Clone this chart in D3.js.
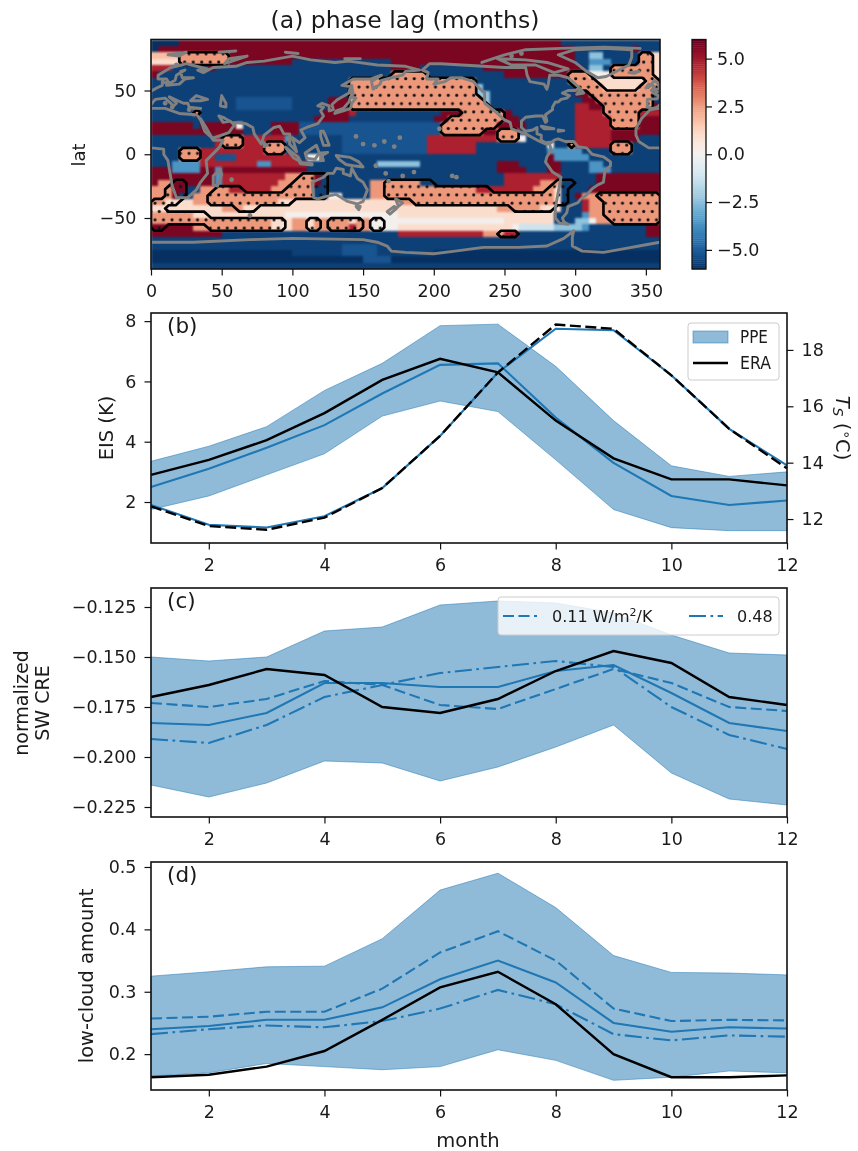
<!DOCTYPE html>
<html>
<head>
<meta charset="utf-8">
<script src="https://cdn.jsdelivr.net/npm/d3@7"></script>
<style>
  html, body { margin: 0; padding: 0; background: #fff; }
  svg { display: block; filter: blur(0.4px); }
  text { font-family: "DejaVu Sans", sans-serif; fill: #1a1a1a; }
  .axis text { font-size: 17.5px; }
  .axis path, .axis line { stroke: #111; stroke-width: 1.2; }
</style>
</head>
<body>
<div id="display"></div>
<script>
// letter -> phase lag in months, rows run north to south, 5 degree cells
var levels = {a: -6, b: -5.65, c: -5.2, d: -3.6, e: -2.4, f: -1.2, g: 0.1, h: 1, i: 1.8, j: 2.6, k: 3.6, l: 4.8, m: 5.7};
var phaseRows = [
  "a4 m54 b14",
  "a1 m59 b8 m1 b3",
  "i4 j7 m49 b2 e2 b5 j2 h1",
  "h4 j7 m9 b14 m26 b2 d3 b4 j2 h1",
  "l3 b5 m1 b25 m4 b9 m14 b1 e2 b1 j6 h1",
  "m1 b33 j5 b11 m9 j3 g3 j6 h1",
  "b28 j18 b13 j4 h7 j2",
  "b28 j18 e1 b13 j4 h5 j3",
  "b28 j18 e2 b12 m2 j9 b1",
  "b12 c8 b5 m3 j19 e1 b13 m2 j8 b1",
  "b12 c8 b5 m3 j20 b12 l2 m2 j7 m1",
  "b6 j1 b17 m4 l1 b12 m3 j6 m1 b9 l4 j5 l3",
  "b23 m5 b12 m2 j8 m2 b8 l5 j4 m3",
  "m6 b1 m5 g1 b4 m4 c20 j8 m4 b7 l5 j4 m3",
  "m13 b4 m4 c20 j6 m2 j3 b8 l5 m7",
  "b9 l1 j3 l6 d1 b7 c12 l10 j3 g1 b7 l5 m4 b3",
  "b9 l1 j3 l3 j3 b8 c12 l7 b10 g1 b2 j1 l5 j3 b4",
  "b4 j3 l9 j3 b8 c12 l7 b10 d5 b4 j3 b4",
  "b4 j3 l2 c3 l9 b1 g2 b32 m1 d5 b12",
  "b3 d4 l8 d2 l5 b10 e6 b11 m3 b4 m2 b4 d2 b8",
  "m3 d4 m2 d1 m12 b27 m4 b3 m2 b4 d3 b7",
  "m9 d1 l9 j4 m1 b26 l8 b5 m9",
  "m1 j2 m6 d1 l8 j5 m1 b7 j7 b12 l5 j3 b5 m9",
  "j3 m2 b2 j4 l6 j6 b8 j15 l8 j3 h1 b4 m10",
  "j3 m1 b2 j17 b2 g2 b4 j26 h1 b2 m1 j11",
  "j2 h4 j12 h17 j22 h1 b3 l1 j10",
  "h10 j3 h36 j6 h3 b3 l1 j10",
  "j6 h13 g16 h22 b4 d1 j10",
  "j17 h3 j2 h1 j5 h1 j2 g19 h7 b3 e2 g1 j9",
  "m6 j11 h3 j2 h1 j5 l1 j2 g4 h16 g1 f5 e4 d1 b8 m2",
  "m10 b25 l12 j3 l2 b18 m2",
  "b72",
  "b27 c5 b40",
  "a20 b7 c5 b8 a32",
  "a30 c4 a38",
  "b72"
];
var stippleLevel = "j";

// coastlines as lon, lat
var coastlines = [
  [[0,5],[9,4],[9,0],[12,-5],[13,-12],[15,-25],[18,-34],[26,-34],[32,-28],[35,-22],[40,-15],[39,-5],[48,5],[51,11],[44,11],[43,13],[38,18],[35,27],[33,30],[32,31],[20,32],[10,36],[0,36]],
  [[360,5],[352,5],[345,10],[343,15],[343,20],[347,28],[353,35],[360,36]],
  [[351,37],[351,43],[358,43.5],[359,46],[355,48],[358,49]],
  [[0,49.5],[4,52],[8,54],[8,57],[11,56],[11,54],[20,55],[24,59],[30,60],[22,60],[21,65],[24,66],[18,62],[17,58],[13,55.5],[11,59],[5,59],[5,62],[14,68],[25,71],[40,67],[33,66],[37,64],[44,68],[60,69],[68,72],[80,73],[100,77],[113,74],[130,72],[140,73],[160,70],[180,69],[190,66],[180,65],[178,62],[170,60],[163,58],[162,55],[157,51],[156,57],[163,62],[155,59],[143,59],[135,54],[141,53],[140,48],[132,43],[128,39],[129,35],[126,34],[126,38],[121,40],[118,38],[122,37],[120,34],[122,30],[118,24],[110,21],[106,19],[109,13],[105,9],[100,13],[103,2],[98,8],[98,16],[94,16],[91,22],[87,21],[80,15],[78,8],[73,16],[72,21],[67,24],[57,25],[51,29],[48,30],[51,25],[56,26],[59,23],[55,17],[45,13],[43,13],[39,21],[35,28]],
  [[35,36],[27,37],[26,40],[23,40],[19,42],[13,45],[18,40],[16,38],[10,44],[3,43],[0,39]],
  [[360,39],[358,37],[355,36],[351,37]],
  [[35,36],[30,36],[27,37]],
  [[28,42],[32,46],[40,43],[35,42],[28,42]],
  [[50,46],[53,40],[53,37],[49,38],[50,46]],
  [[114,-22],[115,-34],[118,-35],[124,-33],[131,-31.5],[136,-35],[139,-37],[146,-39],[150,-37],[153,-28],[150,-22],[146,-19],[142,-11],[141,-17],[136,-15],[136,-12],[131,-11],[129,-15],[125,-15],[122,-18],[114,-22]],
  [[131,-1],[141,-2.5],[147,-6],[150,-10],[143,-9],[138,-8],[133,-4],[131,-1]],
  [[109,1],[117,7],[119,1],[116,-4],[110,-3],[109,1]],
  [[95,5.5],[104,-2],[106,-6],[101,-3],[95,5.5]],
  [[105,-6.5],[114,-7.5],[114,-8.5],[106,-7.5],[105,-6.5]],
  [[120,1],[125,1.5],[121,-1],[122,-5],[120,-5],[120,1]],
  [[120,18],[122,18],[124,13],[126,7],[122,7],[120,14],[120,18]],
  [[130,32],[136,34],[141,36],[142,40],[145,44],[141,45],[140,41],[136,36],[131,34],[130,32]],
  [[142,54],[143,47],[142,47],[142,54]],
  [[80,9],[82,7],[80,6],[80,9]],
  [[49,-12],[50,-16],[47,-25],[44,-24],[44,-17],[49,-12]],
  [[173,-35],[178,-38],[175,-41],[174,-38],[173,-35]],
  [[172,-41],[174,-42],[169,-47],[167,-45],[172,-41]],
  [[145,-41],[148,-41],[147,-43.5],[145,-41]],
  [[12,78],[25,80],[20,77],[12,78]],
  [[52,71],[68,77],[55,75],[52,71]],
  [[48,80],[60,81]],
  [[95,80],[104,79]],
  [[137,75],[148,75]],
  [[338,64],[345,65],[342,63.5],[338,64]],
  [[354,50],[358,51],[360,52]],
  [[360,52],[359,55],[356,58],[354,55],[356,53],[354,50]],
  [[350,52],[354,54],[352,55],[350,52]],
  [[316,60],[322,61],[338,70],[340,76],[340,82],[320,83],[300,82],[288,78],[300,72],[308,65],[316,60]],
  [[192,66],[197,71],[205,71],[220,70],[235,69],[250,68],[265,68],[266,62],[268,57],[278,55],[280,51],[281,55],[282,62],[288,62],[295,60],[303,52],[300,50],[295,50],[291,48],[296,46],[294,44],[290,43],[288,41],[286,41],[284,37],[284,35],[279,31],[280,26],[279,25],[277,30],[272,30],[265,29],[262,26],[262,21],[265,18],[270,19],[273,21],[273,16],[276,15],[276,11],[279,9],[283,9],[285,11],[288,12],[293,10],[299,10],[302,6],[308,5],[312,0],[320,-2],[325,-6],[325,-9],[321,-13],[320,-22],[316,-24],[312,-27],[308,-32],[304,-35],[302,-38],[295,-41],[294,-46],[291,-50],[292,-53],[295,-55],[289,-54],[286,-50],[286,-42],[288,-30],[290,-18],[284,-14],[279,-6],[280,-2],[283,3],[282,8],[279,8],[275,10],[270,13],[265,16],[255,20],[254,25],[250,27],[245,32],[243,34],[236,40],[236,48],[232,52],[228,57],[220,60],[212,60],[208,57],[200,55],[203,59],[195,59],[196,64],[192,66]],
  [[245,75],[265,74],[280,72],[295,67],[285,64],[272,70],[255,70],[245,75]],
  [[234,72],[250,78],[265,82],[290,83],[320,84],[346,83]],
  [[301,47],[306,48],[304,51],[301,47]],
  [[276,22],[285,20],[278,20],[276,22]],
  [[288,19],[292,18.5],[288,18],[288,19]],
  [[0,-69],[30,-69],[70,-67],[100,-66],[150,-67],[160,-69],[167,-72],[170,-76],[180,-77],[200,-78],[215,-76],[235,-73],[260,-73],[280,-72],[292,-66],[299,-60],[298,-65],[298,-72],[305,-76],[320,-77],[335,-74],[350,-71],[360,-69]]
];

// small islands, drawn as blobs
var islands = [[57,-20],[70,-48],[204,20],[178,-17],[186,-14],[213,-17],[216,-18],[150,8],[158,7],[165,10],[172,6],[176,13],[145,14],[166,-15],[168,-21],[159,-9],[255,77],[262,79],[18,70],[27,35],[10,40],[15,37]];

var lonTicks = d3.range(0, 351, 50);
var latTicks = [-50, 0, 50];
var barTicks = [-5, -2.5, 0, 2.5, 5];
var months = d3.range(1, 13);
var monthTicks = [2, 4, 6, 8, 10, 12];

// panel b
var eisUpper = [3.35, 3.85, 4.5, 5.7, 6.6, 7.85, 7.9, 6.5, 4.7, 3.2, 2.85, 3.0];
var eisLower = [1.75, 2.2, 2.9, 3.6, 4.85, 5.35, 5.0, 3.4, 1.75, 1.15, 1.05, 1.05];
var eisMean = [2.5, 3.1, 3.8, 4.55, 5.6, 6.55, 6.6, 4.8, 3.3, 2.2, 1.9, 2.05];
var eisEra = [2.9, 3.4, 4.05, 4.95, 6.05, 6.75, 6.3, 4.7, 3.45, 2.75, 2.75, 2.55];
var tsPpe = [12.5, 11.8, 11.7, 12.1, 13.1, 14.95, 17.2, 18.75, 18.7, 17.1, 15.2, 13.9];
var tsEra = [12.45, 11.75, 11.62, 12.05, 13.1, 14.95, 17.2, 18.9, 18.75, 17.1, 15.2, 13.8];

// panel c
var creUpper = [-0.150, -0.152, -0.150, -0.137, -0.135, -0.124, -0.122, -0.123, -0.128, -0.139, -0.148, -0.149];
var creLower = [-0.214, -0.220, -0.213, -0.202, -0.203, -0.212, -0.205, -0.195, -0.184, -0.208, -0.221, -0.224];
var creMean = [-0.183, -0.184, -0.178, -0.163, -0.163, -0.165, -0.165, -0.157, -0.154, -0.168, -0.183, -0.187];
var creLow = [-0.173, -0.175, -0.171, -0.162, -0.164, -0.174, -0.176, -0.166, -0.156, -0.163, -0.175, -0.177];
var creHigh = [-0.191, -0.193, -0.184, -0.170, -0.164, -0.158, -0.155, -0.152, -0.155, -0.175, -0.189, -0.196];
var creEra = [-0.170, -0.164, -0.156, -0.159, -0.175, -0.178, -0.171, -0.157, -0.147, -0.153, -0.170, -0.174];

// panel d
var lcaUpper = [0.325, 0.332, 0.340, 0.341, 0.385, 0.463, 0.490, 0.435, 0.358, 0.331, 0.330, 0.327];
var lcaLower = [0.165, 0.170, 0.185, 0.180, 0.175, 0.180, 0.207, 0.190, 0.158, 0.163, 0.173, 0.170];
var lcaMean = [0.240, 0.245, 0.255, 0.255, 0.275, 0.320, 0.350, 0.315, 0.250, 0.236, 0.243, 0.241];
var lcaLow = [0.257, 0.260, 0.268, 0.268, 0.305, 0.363, 0.397, 0.350, 0.273, 0.253, 0.255, 0.254];
var lcaHigh = [0.232, 0.240, 0.246, 0.243, 0.253, 0.273, 0.303, 0.280, 0.232, 0.222, 0.230, 0.228];
var lcaEra = [0.163, 0.167, 0.180, 0.205, 0.255, 0.307, 0.332, 0.280, 0.200, 0.163, 0.163, 0.166];

var blue = "#1f77b4";
var dashed = "11,4.5";
var dashDot = "17,4.5,2.7,4.5";
var labelSize = 19.5;

var svg = d3.select("#display").append("svg")
    .attr("width", 858)
    .attr("height", 1151);

// map panel
var x = d3.scaleLinear().domain([0, 360]).range([151, 660]);
var y = d3.scaleLinear().domain([-90, 90]).range([269, 39.5]);
var colour = d3.scaleSequential(function(t) { return d3.interpolateRdBu(1 - t); }).domain([-6, 6]);

function expandRow(row) {
  var out = [];
  row.split(" ").forEach(function(run) {
    d3.range(+run.slice(1)).forEach(function() { out.push(run[0]); });
  });
  return out;
}

var grid = phaseRows.map(expandRow);
var cells = [];
grid.forEach(function(row, r) {
  row.forEach(function(key, c) {
    cells.push({lon: c * 5, lat: 90 - r * 5, key: key});
  });
});

svg.append("clipPath").attr("id", "map-clip")
  .append("rect")
    .attr("x", x(0)).attr("y", y(90))
    .attr("width", x(360) - x(0)).attr("height", y(-90) - y(90));

var map = svg.append("g").attr("clip-path", "url(#map-clip)");

map.append("g")
    .style("filter", "blur(0.9px)")
    .attr("shape-rendering", "crispEdges")
  .selectAll("rect")
    .data(cells)
    .enter().append("rect")
      .attr("x", function(d) { return x(d.lon); })
      .attr("y", function(d) { return y(d.lat); })
      .attr("width", x(5) - x(0) + 0.6)
      .attr("height", y(85) - y(90) + 0.6)
      .attr("fill", function(d) { return colour(levels[d.key]); });

// significance outline comes from the same grid
var mask = [];
grid.forEach(function(row) {
  row.forEach(function(key) { mask.push(key == stippleLevel ? 1 : 0); });
});
var contours = d3.contours().size([72, 36]).thresholds([0.5])(mask);
var gridPath = d3.geoPath(d3.geoTransform({
  point: function(px, py) { this.stream.point(x(px * 5), y(90 - py * 5)); }
}));

var hatch = svg.append("defs").append("pattern")
    .attr("id", "dots")
    .attr("patternUnits", "userSpaceOnUse")
    .attr("width", 8.5)
    .attr("height", 16.6);
hatch.append("circle").attr("cx", 2).attr("cy", 4).attr("r", 1.6).attr("fill", "#111");
hatch.append("circle").attr("cx", 6.25).attr("cy", 12.3).attr("r", 1.6).attr("fill", "#111");

map.selectAll(".hatch")
    .data(contours)
    .enter().append("path")
      .attr("class", "hatch")
      .attr("d", gridPath)
      .attr("fill", "url(#dots)");

map.selectAll(".outline")
    .data(contours)
    .enter().append("path")
      .attr("class", "outline")
      .attr("d", gridPath)
      .attr("fill", "none")
      .attr("stroke", "#000")
      .attr("stroke-width", 2.7)
      .attr("stroke-linejoin", "round");

var coastLine = d3.line()
    .x(function(d) { return x(d[0]); })
    .y(function(d) { return y(d[1]); });

map.selectAll(".coast")
    .data(coastlines)
    .enter().append("path")
      .attr("class", "coast")
      .attr("d", coastLine)
      .attr("fill", "none")
      .attr("stroke", "#808080")
      .attr("stroke-width", 2.9)
      .attr("stroke-linejoin", "round")
      .attr("stroke-linecap", "round");

map.selectAll(".island")
    .data(islands)
    .enter().append("circle")
      .attr("class", "island")
      .attr("cx", function(d) { return x(d[0]); })
      .attr("cy", function(d) { return y(d[1]); })
      .attr("r", 2.4)
      .attr("fill", "#808080");

svg.append("rect")
    .attr("x", x(0)).attr("y", y(90))
    .attr("width", x(360) - x(0)).attr("height", y(-90) - y(90))
    .attr("fill", "none").attr("stroke", "#111").attr("stroke-width", 1.6);

svg.append("g")
    .attr("class", "axis")
    .attr("transform", "translate(0,269)")
    .call(d3.axisBottom(x).tickValues(lonTicks).tickSize(6.5).tickPadding(9))
    .select(".domain").remove();

svg.append("g")
    .attr("class", "axis")
    .attr("transform", "translate(151,0)")
    .call(d3.axisLeft(y).tickValues(latTicks).tickSize(6.5).tickPadding(8))
    .select(".domain").remove();

svg.append("text")
    .attr("x", 405).attr("y", 28)
    .attr("text-anchor", "middle")
    .attr("font-size", 23.5)
    .text("(a) phase lag (months)");

svg.append("text")
    .attr("transform", "translate(85,155) rotate(-90)")
    .attr("text-anchor", "middle")
    .attr("font-size", 18)
    .text("lat");

// colour bar
var barY = d3.scaleLinear().domain([-6, 6]).range([269, 39.5]);
svg.append("g").selectAll("rect")
    .data(d3.range(-6, 6, 0.1))
    .enter().append("rect")
      .attr("x", 692)
      .attr("y", function(d) { return barY(d + 0.1); })
      .attr("width", 14)
      .attr("height", barY(0) - barY(0.1) + 0.4)
      .attr("fill", function(d) { return colour(d + 0.05); });

svg.append("rect")
    .attr("x", 692).attr("y", barY(6))
    .attr("width", 14).attr("height", barY(-6) - barY(6))
    .attr("fill", "none").attr("stroke", "#111").attr("stroke-width", 1.3);

svg.append("g")
    .attr("class", "axis")
    .attr("transform", "translate(706,0)")
    .call(d3.axisRight(barY).tickValues(barTicks).tickFormat(d3.format(".1f")).tickSize(6).tickPadding(5))
    .select(".domain").remove();

// line panels share the month axis
var month = d3.scaleLinear().domain([1, 12]).range([151, 787]);

function areaPath(upper, lower, scale) {
  return d3.area()
    .x(function(d) { return month(d); })
    .y0(function(d, i) { return scale(lower[i]); })
    .y1(function(d, i) { return scale(upper[i]); })(months);
}

function linePath(values, scale) {
  return d3.line()
    .x(function(d) { return month(d); })
    .y(function(d, i) { return scale(values[i]); })(months);
}

function addFrame(top, bottom, scale, ticks, format) {
  svg.append("rect")
      .attr("x", 151).attr("y", top)
      .attr("width", 636).attr("height", bottom - top)
      .attr("fill", "none").attr("stroke", "#111").attr("stroke-width", 1.6);

  svg.append("g")
      .attr("class", "axis")
      .attr("transform", "translate(0," + bottom + ")")
      .call(d3.axisBottom(month).tickValues(monthTicks).tickSize(6.5).tickPadding(9))
      .select(".domain").remove();

  svg.append("g")
      .attr("class", "axis")
      .attr("transform", "translate(151,0)")
      .call(d3.axisLeft(scale).tickValues(ticks).tickFormat(format).tickSize(6.5).tickPadding(8))
      .select(".domain").remove();
}

function addBand(upper, lower, scale) {
  svg.append("path")
      .attr("d", areaPath(upper, lower, scale))
      .attr("fill", blue)
      .attr("fill-opacity", 0.5)
      .attr("stroke", blue)
      .attr("stroke-opacity", 0.5);
}

function addLine(values, scale, stroke, dash) {
  svg.append("path")
      .attr("d", linePath(values, scale))
      .attr("fill", "none")
      .attr("stroke", stroke)
      .attr("stroke-width", stroke == "#000" ? 2.4 : 2.1)
      .attr("stroke-dasharray", dash || null);
}

function addPanelLabel(label, top) {
  svg.append("text")
      .attr("x", 167).attr("y", top + 19.5)
      .attr("font-size", 21.5)
      .text(label);
}

// panel b
var eisY = d3.scaleLinear().domain([0.64, 8.27]).range([543, 313]);
var tsY = d3.scaleLinear().domain([11.15, 19.31]).range([543, 313]);

addBand(eisUpper, eisLower, eisY);
addLine(eisMean, eisY, blue);
addLine(eisEra, eisY, "#000");
addLine(tsPpe, tsY, blue);
addLine(tsEra, tsY, "#000", dashed);
addFrame(313, 543, eisY, [2, 4, 6, 8], d3.format("d"));
addPanelLabel("(b)", 313);

svg.append("g")
    .attr("class", "axis")
    .attr("transform", "translate(787,0)")
    .call(d3.axisRight(tsY).tickValues([12, 14, 16, 18]).tickFormat(d3.format("d")).tickSize(6.5).tickPadding(8))
    .select(".domain").remove();

svg.append("text")
    .attr("transform", "translate(113,428) rotate(-90)")
    .attr("text-anchor", "middle")
    .attr("font-size", labelSize)
    .text("EIS (K)");

var tsLabel = svg.append("text")
    .attr("transform", "translate(836,428) rotate(90)")
    .attr("text-anchor", "middle")
    .attr("font-size", labelSize);
tsLabel.append("tspan").attr("font-style", "italic").text("T");
tsLabel.append("tspan").attr("font-size", 14).attr("dy", 3).attr("font-style", "italic").text("S");
tsLabel.append("tspan").attr("dy", -3).text(" (");
tsLabel.append("tspan").attr("font-size", 14).attr("dy", -6).text("\u2218");
tsLabel.append("tspan").attr("dy", 6).text("C)");

var legendB = svg.append("g");
legendB.append("rect")
    .attr("x", 688).attr("y", 323)
    .attr("width", 91).attr("height", 57).attr("rx", 3)
    .attr("fill", "#fff").attr("fill-opacity", 0.8).attr("stroke", "#ccc");
legendB.append("rect")
    .attr("x", 693).attr("y", 331)
    .attr("width", 35).attr("height", 12)
    .attr("fill", blue).attr("fill-opacity", 0.5).attr("stroke", blue).attr("stroke-opacity", 0.5);
legendB.append("line")
    .attr("x1", 693).attr("x2", 728).attr("y1", 363).attr("y2", 363)
    .attr("stroke", "#000").attr("stroke-width", 2.4);
legendB.append("text")
    .attr("x", 740).attr("y", 343)
    .attr("font-size", 17.5).attr("textLength", 28).attr("lengthAdjust", "spacingAndGlyphs")
    .text("PPE");
legendB.append("text")
    .attr("x", 740).attr("y", 369)
    .attr("font-size", 17.5).attr("textLength", 31).attr("lengthAdjust", "spacingAndGlyphs")
    .text("ERA");

// panel c
var creY = d3.scaleLinear().domain([-0.230, -0.1155]).range([817, 588]);

addBand(creUpper, creLower, creY);
addLine(creMean, creY, blue);
addLine(creLow, creY, blue, dashed);
addLine(creHigh, creY, blue, dashDot);
addLine(creEra, creY, "#000");
addFrame(588, 817, creY, [-0.225, -0.2, -0.175, -0.15, -0.125], d3.format(".3f"));
addPanelLabel("(c)", 588);

svg.append("text")
    .attr("transform", "translate(28,703) rotate(-90)")
    .attr("text-anchor", "middle")
    .attr("font-size", 19)
    .text("normalized");
svg.append("text")
    .attr("transform", "translate(49,703) rotate(-90)")
    .attr("text-anchor", "middle")
    .attr("font-size", 19)
    .text("SW CRE");

var legendC = svg.append("g");
legendC.append("rect")
    .attr("x", 498).attr("y", 597)
    .attr("width", 281).attr("height", 38).attr("rx", 3)
    .attr("fill", "#fff").attr("fill-opacity", 0.8).attr("stroke", "#ccc");
legendC.append("line")
    .attr("x1", 503).attr("x2", 537).attr("y1", 616).attr("y2", 616)
    .attr("stroke", blue).attr("stroke-width", 2.1).attr("stroke-dasharray", dashed);
legendC.append("line")
    .attr("x1", 689).attr("x2", 723).attr("y1", 616).attr("y2", 616)
    .attr("stroke", blue).attr("stroke-width", 2.1).attr("stroke-dasharray", dashDot);
var legendLabel = legendC.append("text")
    .attr("x", 552).attr("y", 622)
    .attr("font-size", 16);
legendLabel.append("tspan").text("0.11 W/m");
legendLabel.append("tspan").attr("font-size", 11).attr("dy", -6).text("2");
legendLabel.append("tspan").attr("dy", 6).text("/K");
legendC.append("text")
    .attr("x", 737).attr("y", 622)
    .attr("font-size", 16)
    .text("0.48");

// panel d
var lcaY = d3.scaleLinear().domain([0.1425, 0.508]).range([1090, 862]);

addBand(lcaUpper, lcaLower, lcaY);
addLine(lcaMean, lcaY, blue);
addLine(lcaLow, lcaY, blue, dashed);
addLine(lcaHigh, lcaY, blue, dashDot);
addLine(lcaEra, lcaY, "#000");
addFrame(862, 1090, lcaY, [0.2, 0.3, 0.4, 0.5], d3.format(".1f"));
addPanelLabel("(d)", 862);

svg.append("text")
    .attr("transform", "translate(93,976) rotate(-90)")
    .attr("text-anchor", "middle")
    .attr("font-size", labelSize)
    .text("low-cloud amount");

svg.append("text")
    .attr("x", 468).attr("y", 1147)
    .attr("text-anchor", "middle")
    .attr("font-size", labelSize)
    .text("month");
</script>
</body>
</html>
